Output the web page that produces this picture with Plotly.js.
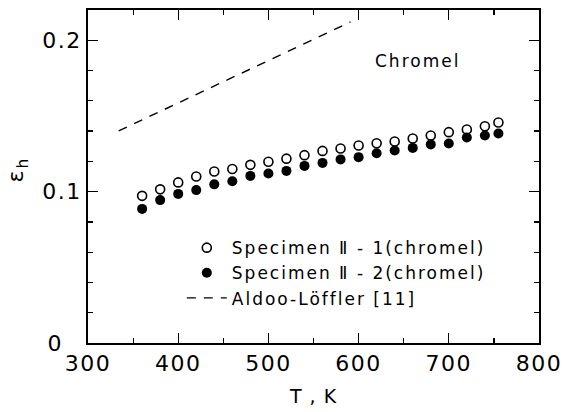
<!DOCTYPE html>
<html>
<head>
<meta charset="utf-8">
<script src="https://cdn.plot.ly/plotly-3.0.1.min.js"></script>
<style>
html,body{margin:0;padding:0;background:#fff;}
#chart{width:565px;height:412px;}
.legendtext{letter-spacing:2px;}
.xtick text, .ytick text, .y2tick text{letter-spacing:1.5px;}
.annotation-text{letter-spacing:2px;}
.xtitle{letter-spacing:1px;}
</style>
</head>
<body>
<div id="chart"></div>
<script>
// Temperature (K)
var T = [360, 380, 400, 420, 440, 460, 480, 500, 520, 540, 560, 580, 600, 620, 640, 660, 680, 700, 720, 740, 755];
// Specimen II-1 (open circles)
var spec1 = [0.0972, 0.1015, 0.1061, 0.1100, 0.1133, 0.1150, 0.1177, 0.1197, 0.1218, 0.1241, 0.1269, 0.1285, 0.1305, 0.1320, 0.1331, 0.1351, 0.1371, 0.1393, 0.1411, 0.1432, 0.1457];
// Specimen II-2 (filled circles)
var spec2 = [0.0886, 0.0944, 0.0985, 0.1010, 0.1048, 0.1069, 0.1104, 0.1120, 0.1137, 0.1170, 0.1190, 0.1213, 0.1228, 0.1254, 0.1272, 0.1289, 0.1312, 0.1318, 0.1358, 0.1371, 0.1384];
// Aldoo-Löffler [11] (dashed line)
var aldT = [334, 591];
var aldE = [0.1401, 0.2121];

var names = ['Specimen \u2161 - 1(chromel)', 'Specimen \u2161 - 2(chromel)', 'Aldoo-L\u00f6ffler [11]'];
var xTicks = [300, 400, 500, 600, 700, 800];
var yTicks = [0.1, 0.2];
var yTickText = ['0.1', '0.2'];
var yZeroTick = [0];
var yZeroText = ['0'];

var FONT = 'DejaVu Sans, sans-serif';

var traces = [
  {x: T, y: spec1, name: names[0], mode: 'markers', type: 'scatter',
   marker: {symbol: 'circle-open', size: 9, color: '#000', line: {width: 1.6, color: '#000'}}},
  {x: T, y: spec2, name: names[1], mode: 'markers', type: 'scatter',
   marker: {symbol: 'circle', size: 10, color: '#000'}},
  {x: aldT, y: aldE, name: names[2], mode: 'lines', type: 'scatter',
   line: {color: '#000', width: 1.4, dash: '9px,8px'}},
  {x: [], y: [], yaxis: 'y2', type: 'scatter', mode: 'markers', showlegend: false, hoverinfo: 'skip'}
];

var layout = {
  width: 565, height: 412,
  margin: {l: 88, r: 26, t: 10, b: 69},
  paper_bgcolor: '#fff', plot_bgcolor: '#fff',
  font: {family: FONT, color: '#000'},
  showlegend: true,
  legend: {x: 0.208, y: 0.339, xanchor: 'left', yanchor: 'top', itemwidth: 40,
           font: {family: FONT, size: 17, color: '#000'}, bgcolor: 'rgba(0,0,0,0)'},
  xaxis: {
    range: [300, 800], tickvals: xTicks, ticks: 'inside', ticklen: 10, tickwidth: 1.2,
    tickcolor: '#000', showline: true, linecolor: '#000', linewidth: 1.6, mirror: 'ticks',
    showgrid: false, zeroline: false,
    minor: {dtick: 50, ticks: 'inside', ticklen: 5, tickcolor: '#000', showgrid: false},
    tickfont: {family: FONT, size: 22, color: '#000'},
    title: {text: 'T , K', font: {family: FONT, size: 19, color: '#000'}, standoff: 14}
  },
  yaxis: {
    range: [0, 0.22], tickvals: yTicks, ticktext: yTickText, ticks: 'inside', ticklen: 10, tickwidth: 1.2,
    tickcolor: '#000', showline: true, linecolor: '#000', linewidth: 1.8, mirror: 'ticks',
    showgrid: false, zeroline: false,
    minor: {dtick: 0.02, ticks: 'inside', ticklen: 5, tickcolor: '#000', showgrid: false},
    tickfont: {family: FONT, size: 22, color: '#000'}
  },
  yaxis2: {
    overlaying: 'y', side: 'left', range: [0, 0.22], tickvals: yZeroTick, ticktext: yZeroText,
    ticks: '', showline: false, showgrid: false, zeroline: false, ticklabelstandoff: 24,
    tickfont: {family: FONT, size: 22, color: '#000'}
  },
  annotations: [
    {x: 665, y: 0.186, xref: 'x', yref: 'y', text: 'Chromel', showarrow: false,
     font: {family: FONT, size: 17, color: '#000'}},
    {x: -0.192, y: 0.521, xref: 'paper', yref: 'paper', text: '\u03b5<sub>h</sub>', showarrow: false,
     textangle: -90, font: {family: FONT, size: 22, color: '#000'}}
  ]
};

Plotly.newPlot('chart', traces, layout, {displayModeBar: false, staticPlot: true});
</script>
</body>
</html>
